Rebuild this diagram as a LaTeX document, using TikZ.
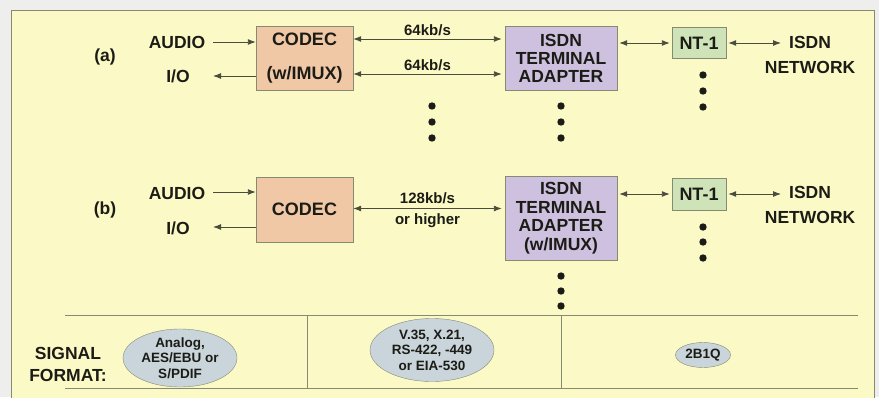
\documentclass[tikz,border=0pt]{standalone}
\usepackage{fontspec}
\setmainfont{Liberation Sans}
\usepackage{tikz}
\usetikzlibrary{arrows.meta,positioning,shapes.geometric}
\definecolor{ink}{HTML}{1C1C16}
\definecolor{wireink}{HTML}{4A4D3E}
\definecolor{rulegray}{HTML}{858A70}
\definecolor{paperyellow}{HTML}{FBFAC7}
\definecolor{marginwhite}{HTML}{EEEFEC}
\definecolor{codecfill}{HTML}{F1C8A6}
\definecolor{adapterfill}{HTML}{CEC0DF}
\definecolor{ntfill}{HTML}{CFE3B9}
\definecolor{formatfill}{HTML}{C9D5DA}
\tikzset{
  lbl/.style={text=ink, font=\fontsize{17.5}{16}\selectfont\bfseries, inner sep=2pt, align=center},
  rate/.style={text=ink, font=\fontsize{15}{15}\selectfont\bfseries, inner sep=1pt},
  codec/.style={rectangle, draw=rulegray, fill=codecfill, text=ink, align=center, font=\fontsize{18}{16}\selectfont\bfseries, minimum width=97pt, inner sep=0pt},
  adapter/.style={rectangle, draw=rulegray, fill=adapterfill, text=ink, align=center, font=\fontsize{17.5}{18}\selectfont\bfseries, minimum width=112pt, inner sep=0pt},
  ntbox/.style={rectangle, draw=rulegray, fill=ntfill, text=ink, font=\fontsize{18}{16}\selectfont\bfseries, minimum width=54pt, minimum height=31pt, inner sep=0pt},
  format/.style={ellipse, draw=rulegray, fill=formatfill, text=ink, align=center, font=\fontsize{13.5}{15.5}\selectfont\bfseries, inner sep=0pt},
  arrow/.style={-{Latex[length=8pt,width=6pt]}, draw=wireink, line width=0.9pt},
  biarrow/.style={{Latex[length=8pt,width=6pt]}-{Latex[length=8pt,width=6pt]}, draw=wireink, line width=0.9pt},
  rule/.style={draw=rulegray, line width=1pt},
  dot/.style={fill=ink}
}
\begin{document}
\begin{tikzpicture}[x=1pt, y=-1pt]
  \useasboundingbox (0,0) rectangle (879,397);
  % paper and frame
  \fill[marginwhite] (0,0) rectangle (879,397);
  \draw[rulegray, line width=1pt, fill=paperyellow] (11,10) rectangle (874,405);

  % (a) separate codec and terminal adapter
  \node[lbl] (tagA) at (105,57) {(a)};
  \node[lbl] (audioA) at (177,42) {AUDIO};
  \node[lbl] (ioA) at (178,76) {I/O};
  \coordinate (audioAtail) at (213,42);
  \coordinate (ioAtip) at (213,76);
  \node[codec, minimum height=64pt, font=\fontsize{18}{34}\selectfont\bfseries] (codecA) at (304.5,58) {CODEC\\(w/IMUX)};
  \node[adapter, minimum height=64pt] (taA) at (561,58) {ISDN\\TERMINAL\\ADAPTER};
  \node[ntbox] (ntA) at (699,43) {NT-1};
  \node[lbl, anchor=west] (isdnA) at (787,42) {ISDN};
  \node[lbl, below=9pt of isdnA] (netA) {NETWORK};

  \draw[arrow] (audioAtail) -- (audioAtail -| codecA.west);
  \draw[arrow] (ioAtip -| codecA.west) -- (ioAtip);
  \draw[biarrow] ([yshift=19pt]codecA.east) -- ([xshift=-3pt,yshift=19pt]codecA.east -| taA.west)
    node[rate, midway, above=2pt] {64kb/s};
  \draw[biarrow] ([yshift=-16pt]codecA.east) -- ([xshift=-3pt,yshift=-16pt]codecA.east -| taA.west)
    node[rate, midway, above=2pt] {64kb/s};
  \draw[biarrow] ([xshift=2pt]taA.east |- ntA) -- ([xshift=-2pt]ntA.west);
  \draw[biarrow] ([xshift=2pt]ntA.east) -- ([xshift=-6pt]ntA.east -| isdnA.west);

  \foreach \y in {106,122,138} {
    \fill[dot] (432,\y) circle (3.7pt);
    \fill[dot] (561,\y) circle (3.7pt);
  }
  \foreach \y in {75,91,107}
    \fill[dot] (703,\y) circle (3.7pt);

  % (b) multiplexing in the terminal adapter
  \node[lbl] (tagB) at (105,210) {(b)};
  \node[lbl] (audioB) at (177,193) {AUDIO};
  \node[lbl] (ioB) at (178,228) {I/O};
  \coordinate (audioBtail) at (213,192);
  \coordinate (ioBtip) at (213,227);
  \node[codec, minimum height=65pt] (codecB) at (304.5,209.5) {CODEC};
  \node[adapter, minimum height=84pt, font=\fontsize{17.5}{18.5}\selectfont\bfseries] (taB) at (561,218) {ISDN\\TERMINAL\\ADAPTER\\(w/IMUX)};
  \node[ntbox, minimum height=32pt] (ntB) at (699,194) {NT-1};
  \node[lbl, anchor=west] (isdnB) at (787,192) {ISDN};
  \node[lbl, below=9pt of isdnB] (netB) {NETWORK};

  \draw[arrow] (audioBtail) -- (audioBtail -| codecB.west);
  \draw[arrow] (ioBtip -| codecB.west) -- (ioBtip);
  \draw[biarrow] ([yshift=1pt]codecB.east) -- ([xshift=-3pt,yshift=1pt]codecB.east -| taB.west)
    node[rate, midway, above=3pt] {128kb/s}
    node[rate, midway, below=4pt] {or higher};
  \draw[biarrow] ([xshift=2pt]taB.east |- ntB) -- ([xshift=-2pt]ntB.west);
  \draw[biarrow] ([xshift=2pt]ntB.east) -- ([xshift=-6pt]ntB.east -| isdnB.west);

  \foreach \y in {227,242,258}
    \fill[dot] (703,\y) circle (3.7pt);
  \foreach \y in {276,291,306}
    \fill[dot] (561,\y) circle (3.7pt);

  % signal format table
  \draw[rule] (65,315) -- (858,315);
  \draw[rule] (65,388) -- (858,388);
  \draw[rule] (307,315) -- (307,388);
  \draw[rule] (561,315) -- (561,388);
  \node[lbl, font=\fontsize{17.5}{22}\selectfont\bfseries] (signal) at (68,364) {SIGNAL\\FORMAT:};
  \node[format, minimum width=114pt, minimum height=53pt] (fmtAudio) at (180,358) {Analog,\\AES/EBU or\\S/PDIF};
  \node[format, minimum width=124pt, minimum height=63pt] (fmtData) at (432,350) {V.35, X.21,\\RS-422, -449\\or EIA-530};
  \node[format, minimum width=55pt, minimum height=25pt] (fmtLine) at (703,355) {2B1Q};
\end{tikzpicture}
\end{document}
